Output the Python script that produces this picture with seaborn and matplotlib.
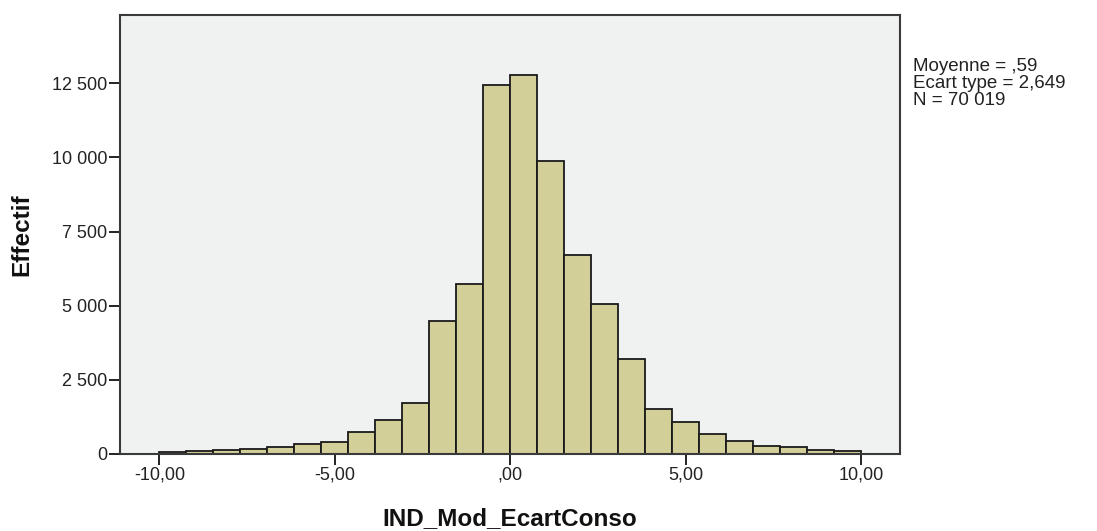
import numpy as np
import pandas as pd
import matplotlib
matplotlib.use("Agg")
import matplotlib.pyplot as plt
import seaborn as sns

# Histogram of IND_Mod_EcartConso: 26 equal bins between -10 and 10
bin_lo, bin_hi, n_bins = -10.0, 10.0, 26
counts = [67, 90, 123, 156, 235, 324, 390, 725, 1150, 1720,
          4490, 5735, 12450, 12780, 9875, 6725, 5060, 3205,
          1532, 1070, 675, 450, 270, 225, 135, 100]

x_ticks = [-10, -5, 0, 5, 10]
x_tick_labels = ["-10,00", "-5,00", ",00", "5,00", "10,00"]
y_ticks = [0, 2500, 5000, 7500, 10000, 12500]
y_tick_labels = ["0", "2 500", "5 000", "7 500", "10 000", "12 500"]
stats_lines = ["Moyenne = ,59", "Ecart type = 2,649", "N = 70 019"]

edges = np.linspace(bin_lo, bin_hi, n_bins + 1)
centers = (edges[:-1] + edges[1:]) / 2
df = pd.DataFrame({"IND_Mod_EcartConso": centers, "Effectif": counts})

sns.set_style("white")
plt.rcParams["font.family"] = ["Liberation Sans", "DejaVu Sans"]

W, H = 1097, 531
fig = plt.figure(figsize=(W / 100, H / 100), dpi=100)
left, right, top, bottom = 120, 900, 15, 454
ax = fig.add_axes([left / W, 1 - bottom / H, (right - left) / W, (bottom - top) / H])
ax.set_facecolor("#F0F1F1")

sns.histplot(data=df, x="IND_Mod_EcartConso", weights="Effectif",
             bins=n_bins, binrange=(bin_lo, bin_hi),
             stat="count", color="#D3CF98", edgecolor="#1a1a1a", linewidth=1.3,
             alpha=1.0, ax=ax)

ax.set_xlim(-11.12, 11.1)
ax.set_ylim(0, 14800)
ax.set_xticks(x_ticks)
ax.set_xticklabels(x_tick_labels)
ax.set_yticks(y_ticks)
ax.set_yticklabels(y_tick_labels)
ax.tick_params(axis="both", which="major", bottom=True, left=True,
               direction="out", length=8, width=1.4, color="#222222",
               labelsize=13, labelcolor="#222222", pad=1)

for s in ax.spines.values():
    s.set_visible(True)
    s.set_color("#3a3a3a")
    s.set_linewidth(1.5)

ax.set_xlabel("IND_Mod_EcartConso", fontsize=17.5, fontweight="bold",
              color="#111111", va="center", ha="center")
ax.xaxis.set_label_coords(0.5, (bottom - 519) / (bottom - top))
ax.set_ylabel("Effectif", fontsize=17.5, fontweight="bold",
              color="#111111", va="center", ha="center")
ax.yaxis.set_label_coords((22 - left) / (right - left), 0.5)

fig.text(913 / W, 1 - 58 / H, "\n".join(stats_lines), ha="left", va="top",
         fontsize=13.5, color="#222222", linespacing=1.0)

fig.savefig("out.png", dpi=100, facecolor="white")
